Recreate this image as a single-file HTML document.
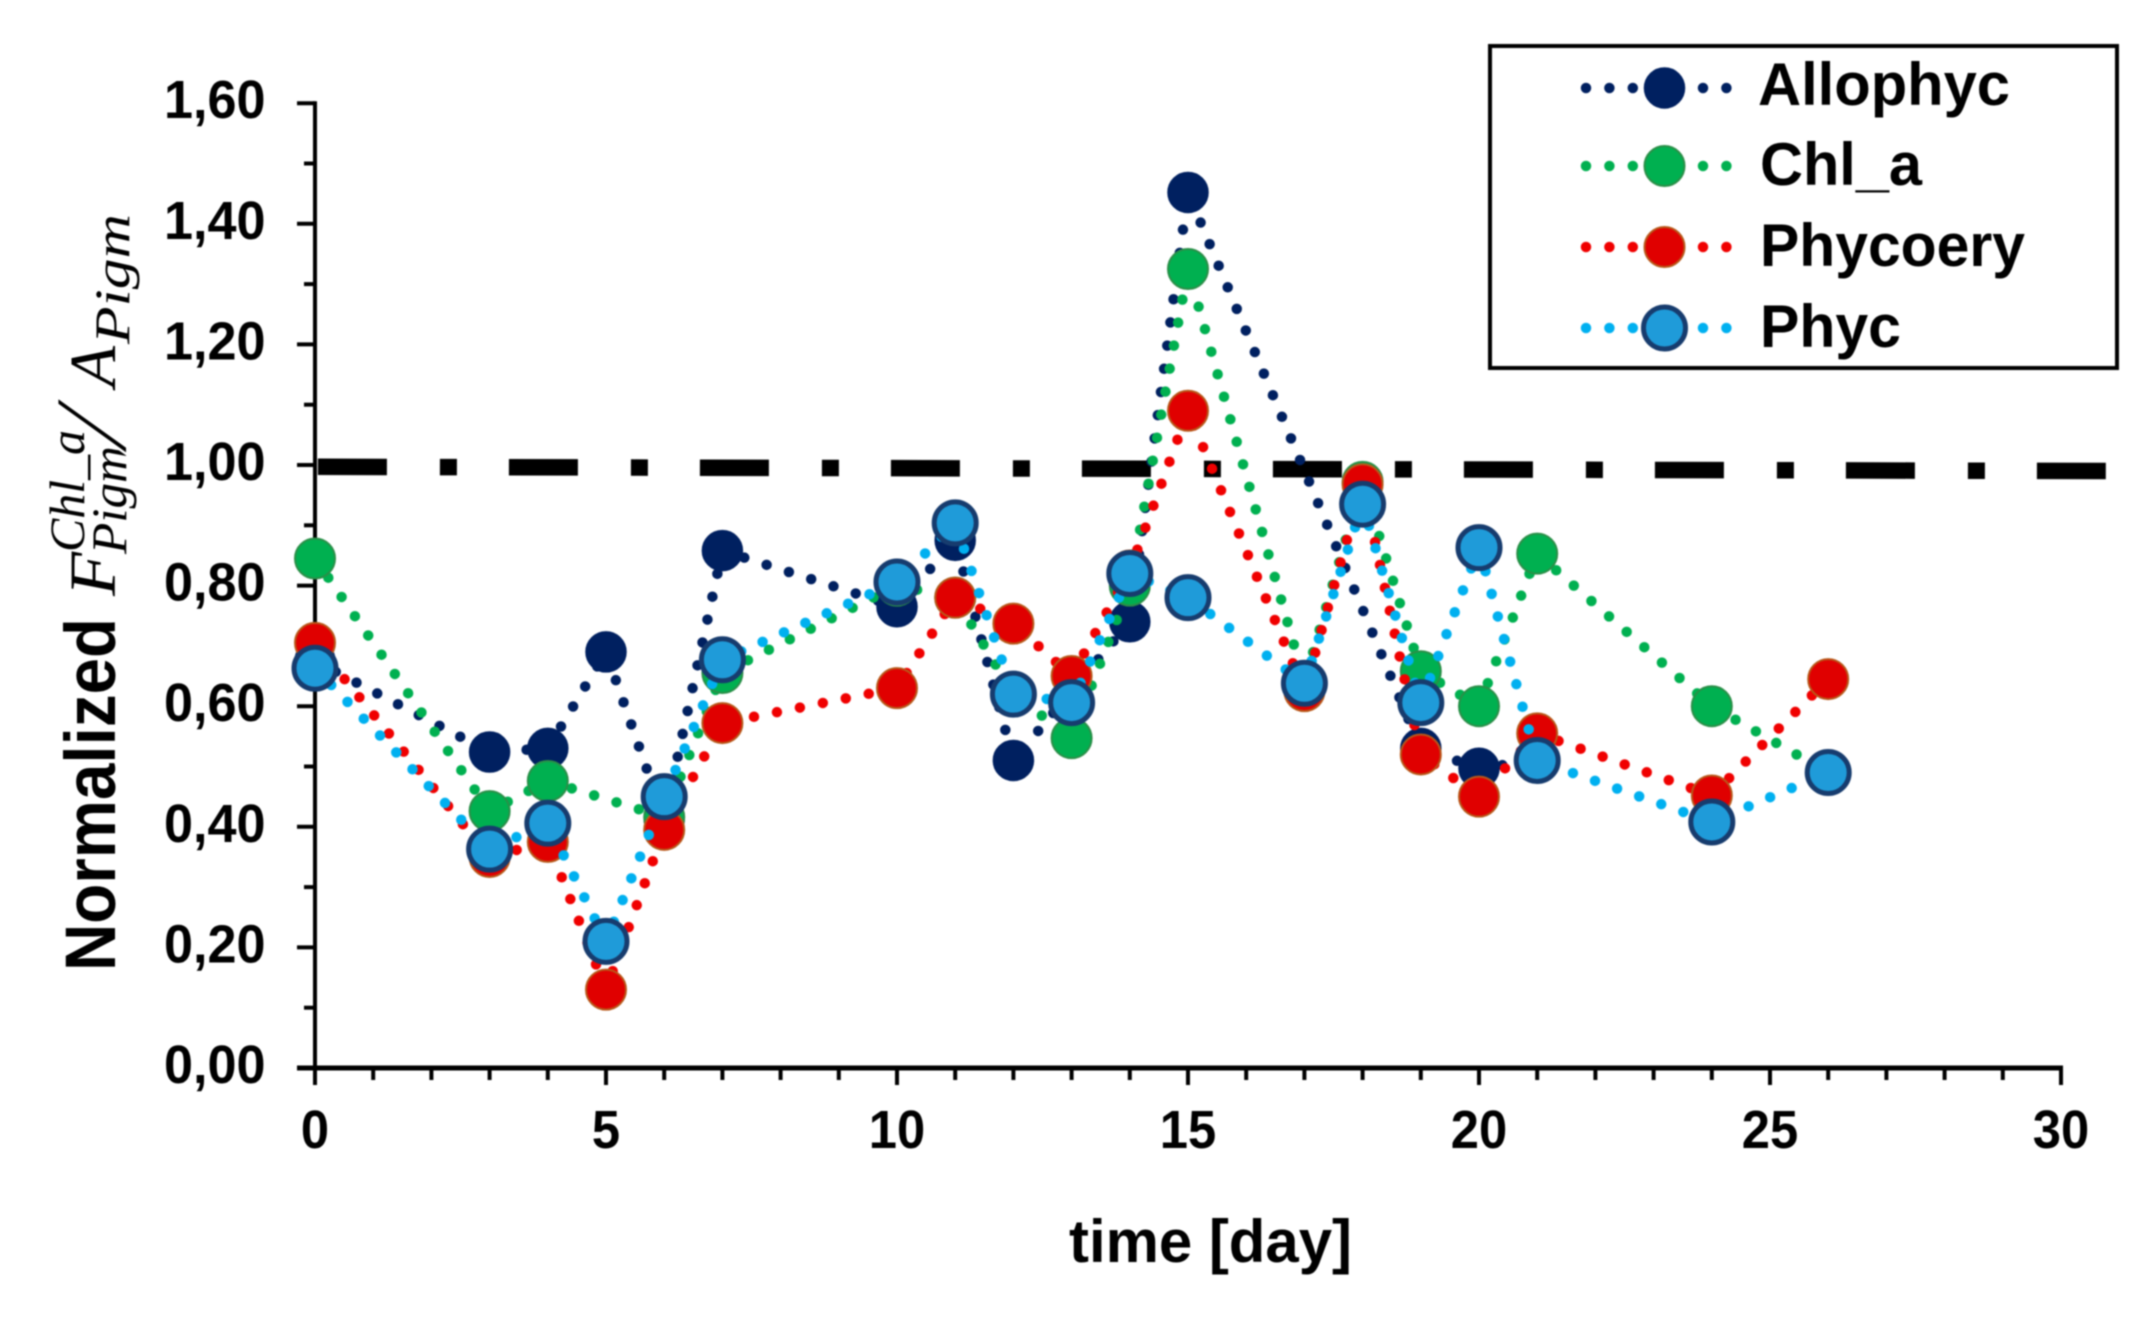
<!DOCTYPE html>
<html lang="en">
<head>
<meta charset="utf-8">
<title>Normalized pigment fluorescence over time</title>
<style>
html,body{margin:0;padding:0;background:#fff;}
svg{display:block;filter:blur(0.7px);}
text{font-family:"Liberation Sans",sans-serif;fill:#000;}
.math{font-family:"Liberation Serif",serif;font-style:italic;}
</style>
</head>
<body>
<svg id="chart" xmlns="http://www.w3.org/2000/svg" width="2152" height="1323" viewBox="0 0 2152 1323">
  <rect width="2152" height="1323" fill="#ffffff"/>
  <g id="reference-layer"></g>
  <g id="axes-layer"></g>
  <g id="series-layer"></g>

  <g>
    <text transform="translate(115,971) rotate(-90)" font-size="71" font-weight="700" textLength="353" lengthAdjust="spacingAndGlyphs">Normalized</text>
    <text class="math" transform="translate(115,596) rotate(-90)" font-size="66" textLength="44" lengthAdjust="spacingAndGlyphs">F</text>
    <text class="math" transform="translate(84,552) rotate(-90)" font-size="50" textLength="122" lengthAdjust="spacingAndGlyphs">Chl_a</text>
    <text class="math" transform="translate(126,554) rotate(-90)" font-size="50" textLength="108" lengthAdjust="spacingAndGlyphs">Pigm</text>
    <text class="math" transform="translate(126,448) rotate(-90)" font-size="104" textLength="40" lengthAdjust="spacingAndGlyphs" style="stroke:#fff;stroke-width:2px;">/</text>
    <text class="math" transform="translate(115,387) rotate(-90)" font-size="66" textLength="41" lengthAdjust="spacingAndGlyphs">A</text>
    <text class="math" transform="translate(129,344) rotate(-90)" font-size="50" textLength="130" lengthAdjust="spacingAndGlyphs">Pigm</text>
  </g>
  <text x="1069" y="1262" font-size="60" font-weight="700" textLength="283" lengthAdjust="spacingAndGlyphs">time [day]</text>

  <g>
    <rect x="1490" y="46" width="627" height="322" fill="#ffffff" stroke="#000000" stroke-width="4"/>
    <g id="legend-keys"></g>
    <text x="1758" y="105" font-size="60" font-weight="700" textLength="252" lengthAdjust="spacingAndGlyphs">Allophyc</text>
    <text x="1760" y="185" font-size="60" font-weight="700" textLength="162" lengthAdjust="spacingAndGlyphs">Chl_a</text>
    <text x="1760" y="266" font-size="60" font-weight="700" textLength="265" lengthAdjust="spacingAndGlyphs">Phycoery</text>
    <text x="1760" y="347" font-size="60" font-weight="700" textLength="141" lengthAdjust="spacingAndGlyphs">Phyc</text>
  </g>
</svg>
<script>
const days = [0,3,4,5,6,7,10,11,12,13,14,15,17,18,19,20,21,24,26];
const allophyc = [0.675,0.524,0.53,0.69,0.413,0.858,0.765,0.875,0.51,null,0.74,1.452,null,null,0.53,0.497,0.51,null,null];
const chlA = [0.845,0.426,0.476,null,0.416,0.655,0.80,0.78,0.62,0.547,0.80,1.325,0.64,0.972,0.658,0.60,0.853,0.60,0.49];
const phycoery = [0.705,0.35,0.375,0.13,0.395,0.572,0.63,0.78,0.737,0.65,0.825,1.09,0.625,0.968,0.52,0.45,0.555,0.452,0.645];
const phyc = [0.663,0.363,0.406,0.21,0.45,0.677,0.806,0.904,0.62,0.606,0.82,0.78,0.638,0.935,0.606,0.863,0.51,0.408,0.49];
const yMajorTicks = [0,0.2,0.4,0.6,0.8,1.0,1.2,1.4,1.6];
const yTickLabels = ["0,00","0,20","0,40","0,60","0,80","1,00","1,20","1,40","1,60"];
const yMinorTicks = [0.1,0.3,0.5,0.7,0.9,1.1,1.3,1.5];
const xMajorTicks = [0,5,10,15,20,25,30];
const xTickLabels = ["0","5","10","15","20","25","30"];
const xMinorTicks = [1,2,3,4,6,7,8,9,11,12,13,14,16,17,18,19,21,22,23,24,26,27,28,29];
const referenceX = [0.05,30.77];
const referenceY = [0.997,0.99];

const NS = "http://www.w3.org/2000/svg";
const X0 = 315, XUNIT = 58.2, Y0 = 1068, YUNIT = 603;
function xScale(v){ return X0 + v * XUNIT; }
function yScale(v){ return Y0 - v * YUNIT; }
function make(tag, attrs){
  const el = document.createElementNS(NS, tag);
  for (const k in attrs) el.setAttribute(k, attrs[k]);
  return el;
}

const axesLayer = document.getElementById("axes-layer");
const refLayer = document.getElementById("reference-layer");
const seriesLayer = document.getElementById("series-layer");
const legendKeys = document.getElementById("legend-keys");

const refLine = make("line", {x1:xScale(referenceX[0]), y1:yScale(referenceY[0]), x2:xScale(referenceX[1]), y2:yScale(referenceY[1]), stroke:"#000", "stroke-width":16.5, "stroke-dasharray":"69 53 17 52"});


refLayer.appendChild(refLine);

const yAxisLine = make("line", {x1:X0, y1:yScale(1.6)-2, x2:X0, y2:1085, stroke:"#000", "stroke-width":4});


axesLayer.appendChild(yAxisLine);
const xAxisLine = make("line", {x1:297, y1:Y0, x2:xScale(30)+2, y2:Y0, stroke:"#000", "stroke-width":5});


axesLayer.appendChild(xAxisLine);

yMajorTicks.forEach(function(v,i){
  const t = make("line", {x1:297, y1:yScale(v), x2:X0, y2:yScale(v), stroke:"#000", "stroke-width":4});
  
  
  axesLayer.appendChild(t);
  const l = make("text", {x:164, y:yScale(v)+15, "font-size":54, "font-weight":700, textLength:101.5, lengthAdjust:"spacingAndGlyphs"});
  
  
  l.textContent = yTickLabels[i];
  axesLayer.appendChild(l);
});
yMinorTicks.forEach(function(v){
  const t = make("line", {x1:304, y1:yScale(v), x2:X0, y2:yScale(v), stroke:"#000", "stroke-width":4});
  
  
  axesLayer.appendChild(t);
});
xMajorTicks.forEach(function(v,i){
  const t = make("line", {x1:xScale(v), y1:Y0, x2:xScale(v), y2:1085, stroke:"#000", "stroke-width":4});
  
  
  axesLayer.appendChild(t);
  const w = xTickLabels[i].length * 28.2;
  const l = make("text", {x:xScale(v) - w / 2, y:1148, "font-size":54, "font-weight":700, textLength:w, lengthAdjust:"spacingAndGlyphs"});
  
  
  l.textContent = xTickLabels[i];
  axesLayer.appendChild(l);
});
xMinorTicks.forEach(function(v){
  const t = make("line", {x1:xScale(v), y1:Y0, x2:xScale(v), y2:1080, stroke:"#000", "stroke-width":4});
  
  
  axesLayer.appendChild(t);
});

const seriesNames = ["allophyc","chl-a","phycoery","phyc"];
const seriesValues = [allophyc, chlA, phycoery, phyc];
const lineColors = ["#002060","#00b050","#f00000","#00b0f0"];
const fillColors = ["#002060","#00b050","#e00000","#1f9bd9"];
const edgeColors = ["#002060","#2a8f48","#b8581a","#173c6e"];
const edgeWidths = [1.5,2,2,5];
const radii = [20,20,20,21];
const legendRows = [88,166,247,328];

function addDotted(parent, d, color){
  const p = make("path", {d:d, fill:"none", stroke:color, "stroke-width":10.5, "stroke-linecap":"round", "stroke-dasharray":"0 23.4"});
  
  
  parent.appendChild(p);
}
function addMarker(parent, cx, cy, s){
  const c = make("circle", {cx:cx, cy:cy, r:radii[s], fill:fillColors[s], stroke:edgeColors[s], "stroke-width":edgeWidths[s]});
  
  
  parent.appendChild(c);
}

seriesValues.forEach(function(vals,s){
  const g = make("g", {});
  
  
  let d = "";
  days.forEach(function(day,i){
    if (vals[i] === null) return;
    d += (d ? "L" : "M") + xScale(day) + " " + yScale(vals[i]);
  });
  addDotted(g, d, lineColors[s]);
  days.forEach(function(day,i){
    if (vals[i] === null) return;
    addMarker(g, xScale(day), yScale(vals[i]), s);
  });
  seriesLayer.appendChild(g);

  const key = make("g", {});
  
  
  addDotted(key, "M1586 " + legendRows[s] + "L1728 " + legendRows[s], lineColors[s]);
  addMarker(key, 1664.5, legendRows[s], s);
  legendKeys.appendChild(key);
});
</script>
</body>
</html>
